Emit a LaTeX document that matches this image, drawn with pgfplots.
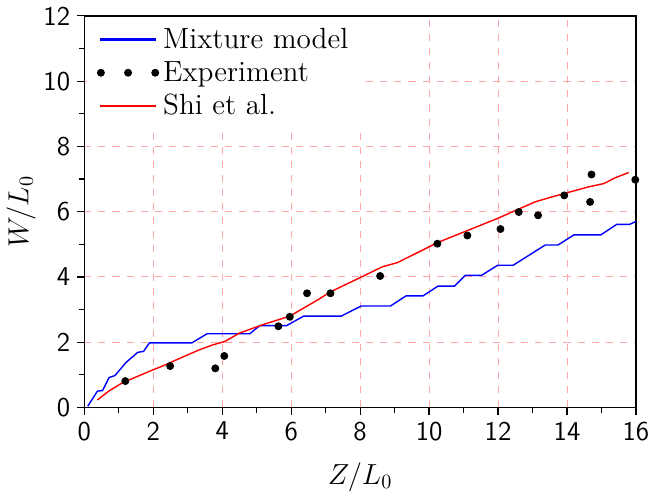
\documentclass[border=0pt]{standalone}
\usepackage{pgfplots}
\pgfplotsset{compat=1.18}

\begin{document}
\begin{tikzpicture}
\begin{axis}[
  scale only axis,
  width=274pt, height=194.5pt,
  xmin=0, xmax=16, ymin=0, ymax=12,
  xtick={0,2,...,16}, ytick={0,2,...,12},
  minor x tick num=1, minor y tick num=1,
  xtick pos=bottom, ytick pos=left,
  tick align=outside,
  major tick length=3.5pt, minor tick length=2.5pt,
  every tick/.style={black, line width=0.6pt},
  axis line style={line width=0.7pt},
  grid=major,
  major grid style={red!35, dashed, dash pattern=on 3.5pt off 3.5pt, line width=0.5pt},
  /pgf/number format/assume math mode=true,
  ticklabel style={font=\fontsize{13.5}{16}\sffamily},
  label style={font=\fontsize{14}{17}\selectfont},
  xlabel={$Z/L_0$}, ylabel={$W/L_0$},
  xlabel style={yshift=-4pt},
  ylabel style={yshift=-3pt},
  legend cell align=left,
  legend style={at={(0.004,0.996)}, anchor=north west, draw=none, fill=white,
    font=\fontsize{14.5}{17}\selectfont, inner xsep=5pt, inner ysep=3pt,
    row sep=1pt},
]
% mixture model: piecewise curve
\addplot[blue, line width=0.7pt,
  legend image code/.code={\fill[blue] (0pt,-0.35pt) rectangle (27pt,0.35pt);}]
  coordinates {
  (0.10,0.04) (0.38,0.50) (0.53,0.52) (0.72,0.92) (0.89,0.98)
  (1.21,1.38) (1.55,1.69) (1.72,1.72) (1.89,1.98) (3.12,1.98)
  (3.56,2.26) (4.80,2.26) (5.09,2.51) (5.87,2.51) (6.36,2.80)
  (7.45,2.80) (8.03,3.11) (8.88,3.11) (9.33,3.42) (9.82,3.42)
  (10.26,3.72) (10.74,3.72) (11.05,4.05) (11.52,4.05) (11.99,4.36)
  (12.44,4.36) (13.37,4.98) (13.74,4.98) (14.20,5.29) (14.98,5.29)
  (15.44,5.61) (15.81,5.61) (16.00,5.70)
};
\addlegendentry{Mixture model\hspace{12pt}}
% measurements
\addplot[only marks, mark=*, mark size=1.75pt, black,
  legend image code/.code={
    \fill[black] (0pt,0pt) circle (1.75pt);
    \fill[black] (13.5pt,0pt) circle (1.75pt);
    \fill[black] (27pt,0pt) circle (1.75pt);}] coordinates {
  (1.19,0.81) (2.49,1.27) (3.80,1.20) (4.06,1.58) (5.63,2.49)
  (5.96,2.78) (6.46,3.50) (7.14,3.50) (8.58,4.03) (10.24,5.02)
  (11.11,5.27) (12.07,5.47) (12.60,5.99) (13.16,5.89) (13.92,6.50)
  (14.67,6.30) (14.71,7.14) (15.98,6.98)
};
\addlegendentry{Experiment}
% Shi et al.
\addplot[red, line width=0.7pt,
  legend image code/.code={\fill[red] (0pt,-0.35pt) rectangle (27pt,0.35pt);}]
  coordinates {
  (0.38,0.23) (0.72,0.51) (1.11,0.76) (1.98,1.15) (2.27,1.27)
  (2.71,1.48) (3.34,1.77) (3.73,1.92) (4.07,2.02) (4.50,2.28)
  (5.18,2.54) (5.96,2.80) (6.79,3.31) (7.13,3.54) (8.00,3.98)
  (8.64,4.31) (9.08,4.44) (10.26,5.06) (12.00,5.80) (13.07,6.30)
  (13.55,6.45) (14.62,6.76) (15.06,6.86) (15.40,7.04) (15.79,7.20)
};
\addlegendentry{Shi et al.}
\end{axis}
\end{tikzpicture}
\end{document}
